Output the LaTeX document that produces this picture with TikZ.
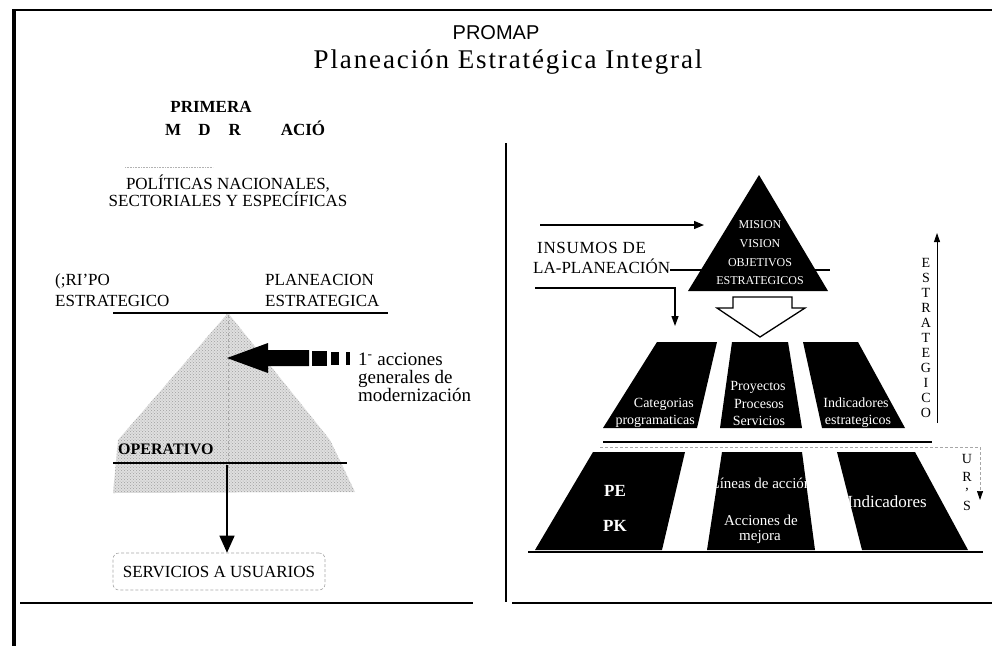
\documentclass[tikz,border=0pt]{standalone}
\usepackage{fontspec}
\setmainfont{Liberation Serif}
\newfontfamily\sansf{Liberation Sans}
\usetikzlibrary{arrows.meta,patterns}
\tikzset{
  lbl/.style={inner sep=0pt, font=\fontsize{17}{19}\selectfont},
  lbll/.style={inner sep=0pt, font={\fontsize{17}{19}\selectfont\addfontfeatures{LetterSpace=4}}},
  lblb/.style={inner sep=0pt, font=\bfseries\fontsize{17}{19}\selectfont},
  lacc/.style={inner sep=0pt, font=\fontsize{19}{21}\selectfont},
  wtri/.style={inner sep=0pt, text=white, font=\fontsize{12}{14}\selectfont},
  wmid/.style={inner sep=0pt, text=white, font=\fontsize{14}{16}\selectfont},
  wbot/.style={inner sep=0pt, text=white, font=\fontsize{15}{17}\selectfont},
  wbotb/.style={inner sep=0pt, text=white, font=\bfseries\fontsize{17}{19}\selectfont},
  vlet/.style={inner sep=0pt, font=\fontsize{14}{16}\selectfont},
  blockf/.style={fill=black},
  rulel/.style={line width=1.3pt},
  conn/.style={line width=1.3pt},
}
\begin{document}
\begin{tikzpicture}[x=1pt,y=-1pt]
\useasboundingbox (0,0) rectangle (992,646);
% frame
\draw[line width=2pt] (12,10) -- (992,10);
\draw[line width=3.5pt] (14,9) -- (14,646);
\draw[line width=1.5pt] (20,603) -- (473,603);
\draw[line width=2.5pt] (506,143) -- (506,602);
\draw[line width=1.5pt] (512,603) -- (992,603);
% title
\node[anchor=base, inner sep=0pt, font=\sansf\fontsize{20}{22}\selectfont] (promap) at (496,39) {PROMAP};
\node[anchor=base, inner sep=0pt, font={\fontsize{27}{30}\selectfont\addfontfeatures{LetterSpace=7}}] (title) at (508,68) {Planeación Estratégica Integral};
% ---------- left panel
\node[lblb, anchor=base] (prim) at (211,112) {PRIMERA};
\node[lblb, anchor=base west] (moder) at (165,135) {M\hspace{17pt}D\hspace{18pt}R\hspace{40pt}ACIÓ};
\draw[gray!60, densely dotted, line width=0.6pt] (125,167) -- (213,167);
\node[lbl, anchor=base] (pol1) at (228,189) {POLÍTICAS NACIONALES,};
\node[lbl, anchor=base] (pol2) at (228,206) {SECTORIALES Y ESPECÍFICAS};
\node[lbl, anchor=base west] (gr1) at (55,285) {(;RI'PO};
\node[lbl, anchor=base west] (gr2) at (55,306) {ESTRATEGICO};
\node[lbl, anchor=base west] (pl1) at (265,285) {PLANEACION};
\node[lbl, anchor=base west] (pl2) at (265,306) {ESTRATEGICA};
% shaded pyramid
\fill[gray!25] (228,313) -- (330,440) -- (355,492) -- (113,493) -- (118,440) -- cycle;
\fill[pattern=crosshatch dots, pattern color=gray!75] (228,313) -- (330,440) -- (355,492) -- (113,493) -- (118,440) -- cycle;
\draw[rulel] (113,313) -- (388,313);
\draw[gray!70, dashed, line width=0.8pt] (228,315) -- (228,470);
% thick arrow
\fill (227,358) -- (268,343) -- (268,350) -- (309,350) -- (309,366) -- (268,366) -- (268,373) -- cycle;
\fill (312,351) rectangle (327,366);
\fill (331,352) rectangle (339,365);
\fill (346,352) rectangle (350,365);
\node[lacc, anchor=base west] (acc1) at (358,365) {1\textsuperscript{-} acciones};
\node[lacc, anchor=base west] (acc2) at (358,383) {generales de};
\node[lacc, anchor=base west] (acc3) at (358,401) {modernización};
\node[inner sep=0pt, anchor=base west, font=\bfseries\fontsize{16}{18}\selectfont] (oper) at (118,454) {OPERATIVO};
\draw[rulel] (113,463) -- (347,463);
\node[lbl, draw=gray!70, densely dashed, line width=0.6pt, rounded corners=6pt, minimum width=212pt, minimum height=37pt] (srv) at (219,571.5) {SERVICIOS A USUARIOS};
\coordinate (dst) at (227,465);
\draw[conn, -{Triangle[length=17pt,width=15pt]}] (dst) -- (dst |- srv.north);
% ---------- right panel
\node[lbll, anchor=base west] (ins1) at (537,253) {INSUMOS DE};
\node[lbl, anchor=base west] (ins2) at (533,273) {LA-PLANEACIÓN};
\coordinate (lnE) at (830,270);
\draw[line width=1.2pt] ([yshift=3pt]ins2.base east) -- (lnE);
% triangle
\fill (759,175) -- (828,291) -- (688,291) -- cycle;
\node[wtri, anchor=base] (mis) at (760,228) {MISION};
\node[wtri, anchor=base] (vis) at (760,247) {VISION};
\node[wtri, anchor=base] (obj) at (760,266) {OBJETIVOS};
\node[wtri, anchor=base] (est) at (760,284) {ESTRATEGICOS};
% input arrows
\coordinate (a1s) at (540,225);
\coordinate (a1e) at (704,225);
\draw[conn, -{Triangle[length=10pt,width=8pt]}] (a1s) -- (a1e);
\coordinate (a2s) at (535,288);
\coordinate (a2e) at (675,326);
\draw[conn, -{Triangle[length=10pt,width=7pt]}] (a2s) -| (a2e);
% hollow arrow
\draw[line width=1.3pt, fill=white] (733,297) -- (792,297) -- (792,308) -- (805,308) -- (760,337) -- (717,308) -- (733,308) -- cycle;
% middle row
\fill[blockf] (657,342) -- (717,342) -- (697,428) -- (603,428) -- cycle;
\fill[blockf] (732,342) -- (788,342) -- (802,428) -- (720,428) -- cycle;
\fill[blockf] (803,342) -- (858,342) -- (905,428) -- (822,428) -- cycle;
\node[wmid, anchor=base east] (cat1) at (694,407) {Categorias};
\node[wmid, anchor=base east] (cat2) at (695,424) {programaticas};
\node[wmid, anchor=base] (pr1) at (758,390) {Proyectos};
\node[wmid, anchor=base] (pr2) at (759,408) {Procesos};
\node[wmid, anchor=base] (pr3) at (759,425) {Servicios};
\node[wmid, anchor=base] (ind1) at (856,407) {Indicadores};
\node[wmid, anchor=base] (ind2) at (858,424) {estrategicos};
\draw[line width=2pt] (603,442) -- (932,442);
% side arrows
\draw[line width=0.8pt, -{Triangle[length=9pt,width=6pt]}] (937,423) -- (937,233);
\foreach \l [count=\i] in {E,S,T,R,A,T,E,G,I,C,O}
  \node[vlet, anchor=base] (es\i) at (926,252+15*\i) {\l};
\draw[gray!70, densely dashed, line width=0.7pt, -{Triangle[length=9pt,width=6pt,color=black]}] (600,447) -- (980,447) -- (980,500);
\node[vlet, anchor=base] (u1) at (967,463) {U};
\node[vlet, anchor=base] (u2) at (967,481) {R};
\node[vlet, anchor=base] (u3) at (967,497) {'};
\node[vlet, anchor=base] (u4) at (967,510) {S};
% bottom row
\fill[blockf] (593,452) -- (685,452) -- (662,550) -- (535,550) -- cycle;
\fill[blockf] (722,452) -- (802,452) -- (815,550) -- (707,550) -- cycle;
\fill[blockf] (837,452) -- (915,452) -- (968,550) -- (862,550) -- cycle;
\draw[line width=1.2pt] (528,552) -- (983,552);
\node[wbotb, anchor=base] (pe) at (615,496) {PE};
\node[wbotb, anchor=base] (pk) at (615,531) {PK};
\node[wbot, anchor=base] (lin) at (761,488) {Líneas de acción};
\node[wbot, anchor=base] (acm1) at (761,525) {Acciones de};
\node[wbot, anchor=base] (acm2) at (760,540) {mejora};
\node[wbot, anchor=base, font=\fontsize{17}{19}\selectfont] (indb) at (887,507) {Indicadores};
\end{tikzpicture}
\end{document}
